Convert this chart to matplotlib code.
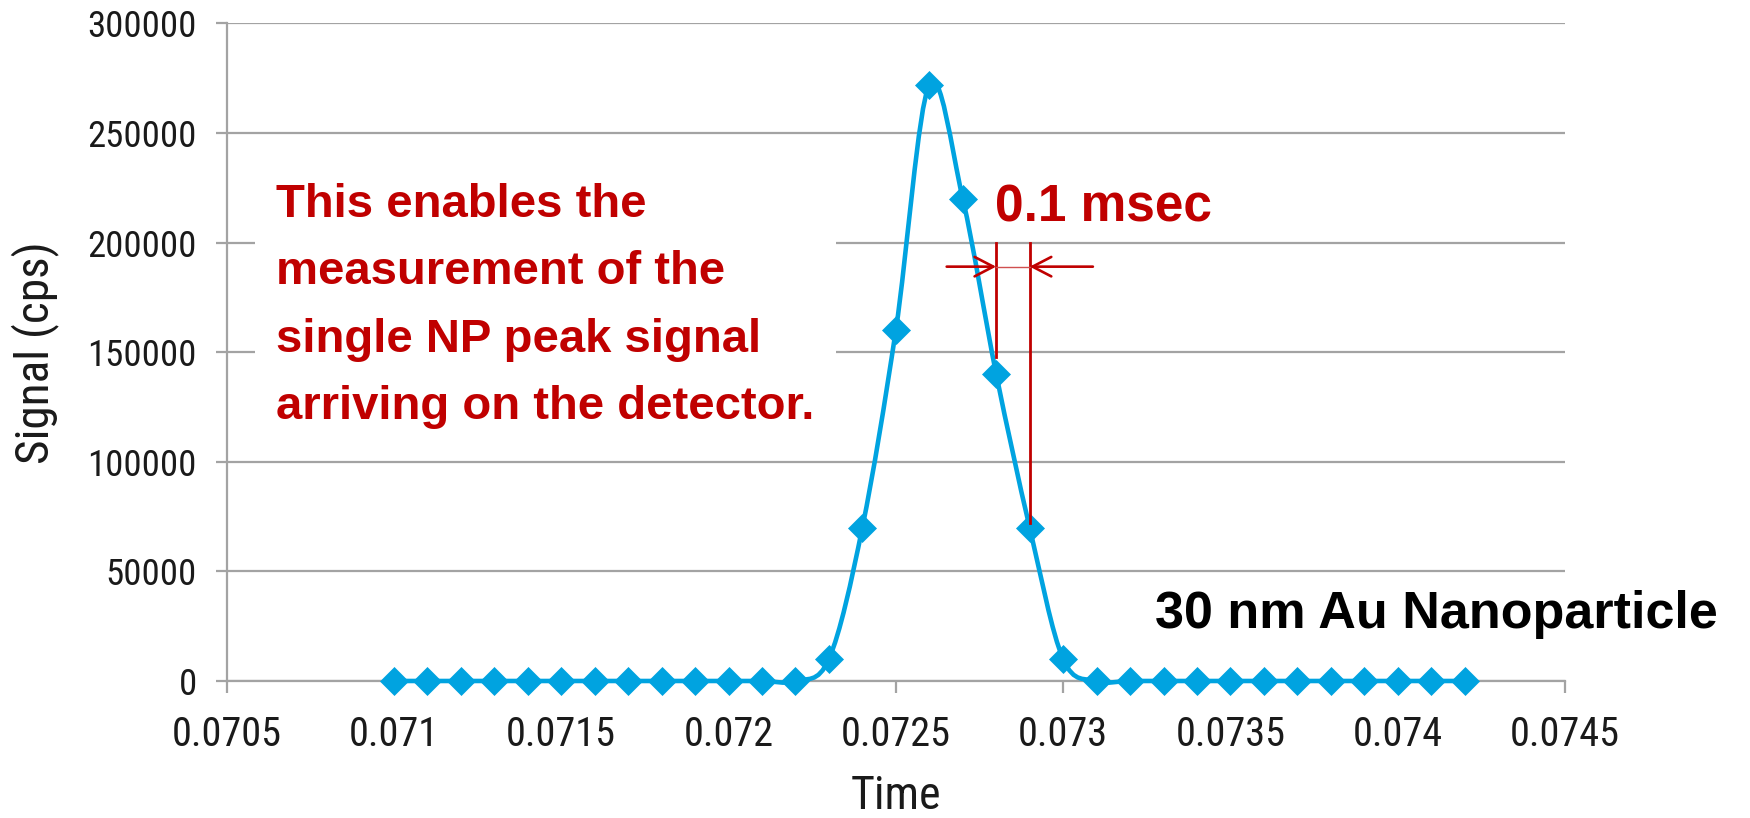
import numpy as np
import matplotlib
matplotlib.use('Agg')
import matplotlib.pyplot as plt
from matplotlib.path import Path
from matplotlib.patches import PathPatch, ArrowStyle

# condensed face for axes text, Arial-like bold for the callouts
plt.rcParams['font.family'] = ['Roboto Condensed', 'DejaVu Sans']
CALLOUT_FONT = ['Liberation Sans', 'DejaVu Sans']

# single 30 nm Au particle event, 0.1 ms dwell
time_s = [0.0710, 0.0711, 0.0712, 0.0713, 0.0714, 0.0715, 0.0716, 0.0717, 0.0718,
          0.0719, 0.0720, 0.0721, 0.0722, 0.0723, 0.0724, 0.0725, 0.0726, 0.0727,
          0.0728, 0.0729, 0.0730, 0.0731, 0.0732, 0.0733, 0.0734, 0.0735, 0.0736,
          0.0737, 0.0738, 0.0739, 0.0740, 0.0741, 0.0742]
signal_cps = [0, 0, 0, 0, 0, 0, 0, 0, 0,
              0, 0, 0, 0, 10000, 70000, 160000, 272000, 220000,
              140000, 70000, 10000, 0, 0, 0, 0, 0, 0,
              0, 0, 0, 0, 0, 0]

x_ticks = [0.0705, 0.0710, 0.0715, 0.0720, 0.0725, 0.0730, 0.0735, 0.0740, 0.0745]
x_tick_labels = ['0.0705', '0.071', '0.0715', '0.072', '0.0725', '0.073', '0.0735', '0.074', '0.0745']
y_ticks = [0, 50000, 100000, 150000, 200000, 250000, 300000]
y_tick_labels = ['0', '50000', '100000', '150000', '200000', '250000', '300000']

# dwell-time marker: two sample times and the heights of their guide lines
dwell_t = [0.0728, 0.0729]
dwell_top = 200000
dwell_bottom = [148000, 72000]
arrow_y = 189000
arrow_tails = [0.072652, 0.073089]

BLUE = '#00A3E0'
RED = '#C00000'
GRAY = '#A3A3A3'
INK = '#1A1A1A'


def smooth_path(xs, ys):
    """Bezier path through the points, same shape as a spreadsheet 'smoothed line'."""
    pts = np.column_stack([xs, ys]).astype(float)
    n = len(pts)
    verts = [pts[0]]
    codes = [Path.MOVETO]
    for i in range(n - 1):
        p0 = pts[max(i - 1, 0)]
        p1, p2 = pts[i], pts[i + 1]
        p3 = pts[min(i + 2, n - 1)]
        verts += [p1 + (p2 - p0) / 6, p2 - (p3 - p1) / 6, p2]
        codes += [Path.CURVE4] * 3
    return Path(verts, codes)


fig = plt.figure(figsize=(17.5, 8.18), dpi=100)
ax = fig.add_axes([0.1295, 0.1675, 0.7648, 0.804])

# signal trace
curve = PathPatch(smooth_path(time_s, signal_cps), fill=False, edgecolor=BLUE,
                  lw=3.3, zorder=4, clip_on=False, capstyle='round', joinstyle='round')
ax.add_patch(curve)
ax.plot(time_s, signal_cps, linestyle='none', marker='D', ms=14, color=BLUE,
        mec=BLUE, mew=0.5, zorder=5, clip_on=False)

ax.set_xlim(0.0705, 0.0745)
ax.set_ylim(0, 300000)
ax.set_xticks(x_ticks)
ax.set_xticklabels(x_tick_labels)
ax.set_yticks(y_ticks)
ax.set_yticklabels(y_tick_labels)

ax.yaxis.grid(True, color=GRAY, lw=1.6)
ax.set_axisbelow(True)
for side in ['top', 'right']:
    ax.spines[side].set_visible(False)
for side in ['left', 'bottom']:
    ax.spines[side].set_color(GRAY)
    ax.spines[side].set_linewidth(1.6)

ax.tick_params(axis='y', direction='out', length=8, width=1.6, color=GRAY,
               pad=13.5, labelsize=26.5, labelcolor=INK)
ax.tick_params(axis='x', direction='out', length=8.6, width=1.6, color=GRAY,
               pad=16, labelsize=29, labelcolor=INK)

ax.set_xlabel('Time', fontsize=33, color=INK)
ax.set_ylabel('Signal (cps)', fontsize=34, color=INK)
ax.xaxis.set_label_coords(0.5, -0.142)
ax.yaxis.set_label_coords(-0.125, 0.5)

# explanation text on a white panel
ax.text(0.0706473, 227000,
        'This enables the\nmeasurement of the\nsingle NP peak signal\narriving on the detector.',
        family=CALLOUT_FONT, fontsize=34, fontweight='bold', color=RED,
        ha='left', va='top', linespacing=1.68, zorder=3,
        bbox=dict(boxstyle='square,pad=0.45', fc='white', ec='none'))

# 0.1 ms dwell time bracket
for t, bottom in zip(dwell_t, dwell_bottom):
    ax.plot([t, t], [dwell_top, bottom], color=RED, lw=2, zorder=6)
ax.plot(dwell_t, [arrow_y, arrow_y], color='#D05050', lw=1, zorder=6)
head = ArrowStyle('->', head_length=13.5, head_width=7)
for tail, tip in zip(arrow_tails, dwell_t):
    ax.annotate('', xy=(tip, arrow_y), xytext=(tail, arrow_y),
                arrowprops=dict(arrowstyle=head, mutation_scale=1, color=RED, lw=1.9,
                                shrinkA=0, shrinkB=0), zorder=6)
ax.text(0.072796, 209500, '0.1 msec', family=CALLOUT_FONT, fontsize=37,
        fontweight='bold', color=RED, ha='left', va='baseline')

ax.text(0.073274, 24170, '30 nm Au Nanoparticle', family=CALLOUT_FONT, fontsize=37.5,
        fontweight='bold', color='black', ha='left', va='baseline')

fig.savefig('out.png', dpi=100)
